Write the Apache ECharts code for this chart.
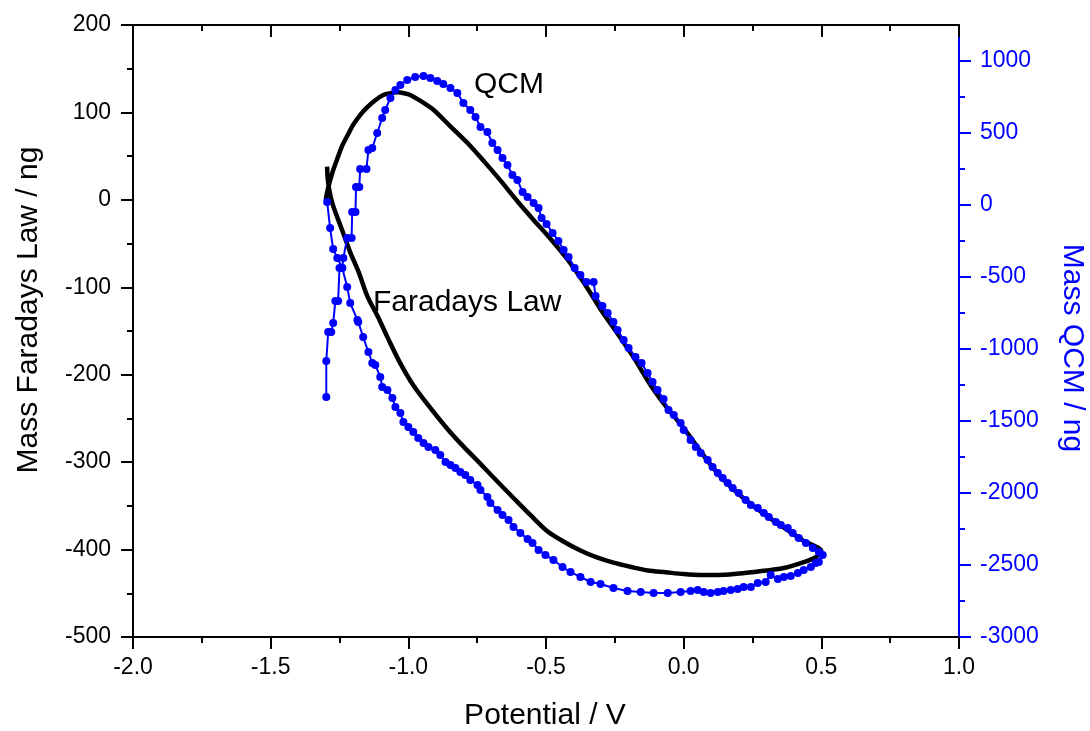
<!DOCTYPE html>
<html>
<head>
<meta charset="utf-8">
<script src="https://cdn.jsdelivr.net/npm/echarts@6/dist/echarts.min.js"></script>
<style>
html,body{margin:0;padding:0;background:#fff;}
#chart{width:1090px;height:731px;}
</style>
</head>
<body>
<div id="chart"></div>
<script>
// ---- Data ----
// Faradays Law curve (left axis, ng) vs potential (V)
const faradayV = [-1.300,-1.291,-1.275,-1.258,-1.240,-1.222,-1.200,-1.175,-1.149,-1.120,-1.091,-1.065,-1.040,-1.015,-0.993,-0.950,-0.909,-0.850,-0.785,-0.725,-0.665,-0.600,-0.545,-0.480,-0.420,-0.360,-0.300,-0.240,-0.180,-0.120,-0.060,0.000,0.062,0.124,0.184,0.244,0.304,0.364,0.430,0.500,
  0.473,0.420,0.364,0.300,0.244,0.184,0.124,0.062,0.000,-0.065,-0.130,-0.190,-0.255,-0.315,-0.375,-0.435,-0.495,-0.555,-0.618,-0.680,-0.738,-0.800,-0.858,-0.920,-0.982,-1.029,-1.076,-1.110,-1.149,-1.180,-1.211,-1.240,-1.258,-1.275,-1.287,-1.293,-1.295];
const faradayMass = [0,14,32,47,62,73,86,97,106,114,120,122,123,122,120,112,103,85,65,44,22,-3,-23,-46,-69,-96,-126,-153,-181,-212,-238,-261,-288,-313,-332,-348,-362,-375,-389,-402,
  -410,-416,-421,-424,-426,-428,-429,-429,-428,-426,-424,-420,-415,-409,-401,-391,-379,-361,-341,-321,-302,-282,-262,-238,-212,-187,-157,-134,-110,-83,-60,-35,-20,-5,11,25,38];

// QCM curve (right axis, ng) vs potential (V)
const qcmV = [-1.298,-1.298,-1.291,-1.280,-1.273,-1.265,-1.255,-1.250,-1.240,-1.236,-1.222,-1.206,-1.204,-1.192,-1.190,-1.178,-1.175,-1.152,-1.145,-1.131,-1.113,-1.095,-1.084,-1.065,-1.047,-1.029,-1.004,-0.975,-0.945,-0.920,-0.895,-0.873,-0.847,-0.822,-0.800,-0.775,-0.756,-0.738,-0.713,-0.695,-0.676,-0.658,-0.640,-0.622,-0.604,-0.585,-0.567,-0.545,-0.527,-0.516,-0.498,-0.476,-0.455,-0.436,-0.418,-0.396,-0.375,-0.353,-0.327,-0.320,-0.295,-0.276,-0.255,-0.240,-0.218,-0.200,-0.175,-0.153,-0.131,-0.113,-0.095,-0.073,-0.055,-0.036,-0.011,0.000,0.025,0.044,0.062,0.087,0.105,0.124,0.142,0.160,0.178,0.200,0.225,0.244,0.269,0.291,0.309,0.335,0.353,0.378,0.396,0.418,0.444,0.469,0.491,0.505,
  0.491,0.480,0.462,0.436,0.415,0.389,0.364,0.342,0.316,0.298,0.269,0.244,0.218,0.196,0.171,0.145,0.124,0.098,0.073,0.051,0.025,-0.011,-0.058,-0.109,-0.156,-0.204,-0.255,-0.302,-0.338,-0.375,-0.411,-0.440,-0.473,-0.502,-0.527,-0.549,-0.567,-0.593,-0.618,-0.636,-0.658,-0.676,-0.702,-0.713,-0.738,-0.749,-0.775,-0.793,-0.811,-0.829,-0.847,-0.865,-0.884,-0.902,-0.927,-0.945,-0.964,-0.982,-1.000,-1.018,-1.029,-1.047,-1.058,-1.076,-1.095,-1.102,-1.120,-1.131,-1.145,-1.164,-1.182,-1.185,-1.211,-1.222,-1.240,-1.258,-1.273,-1.284,-1.295];
const qcmMass = [-1333,-1083,-882,-882,-819,-667,-667,-437,-437,-368,-229,-229,-49,-49,125,125,250,250,382,396,500,604,660,743,799,833,868,889,896,882,861,840,813,778,708,660,611,542,507,431,382,326,278,208,174,90,56,14,-21,-90,-132,-194,-250,-312,-361,-437,-486,-535,-535,-632,-701,-750,-812,-868,-937,-993,-1055,-1097,-1166,-1229,-1285,-1347,-1423,-1458,-1514,-1562,-1632,-1680,-1722,-1771,-1819,-1861,-1896,-1930,-1965,-2000,-2048,-2083,-2104,-2139,-2166,-2201,-2222,-2243,-2278,-2312,-2347,-2382,-2410,-2430,
  -2479,-2486,-2514,-2535,-2555,-2576,-2583,-2597,-2569,-2618,-2625,-2653,-2653,-2667,-2674,-2681,-2688,-2694,-2688,-2674,-2681,-2688,-2694,-2694,-2688,-2681,-2660,-2632,-2618,-2583,-2549,-2514,-2465,-2430,-2396,-2347,-2319,-2278,-2236,-2187,-2153,-2118,-2069,-2028,-1979,-1944,-1910,-1875,-1854,-1826,-1805,-1785,-1736,-1701,-1680,-1653,-1618,-1576,-1541,-1507,-1444,-1403,-1340,-1285,-1264,-1194,-1111,-1097,-1021,-917,-812,-798,-681,-569,-437,-368,-306,-160,21];

// Tick values
const rightMajorTicks = [-3000,-2500,-2000,-1500,-1000,-500,0,500,1000];
const rightMinorTicks = [-2750,-2250,-1750,-1250,-750,-250,250,750];

const FONT = "'Liberation Sans', Arial, sans-serif";
const BLUE = '#0000ff';

const faradayData = faradayV.map((v,i)=>[v, faradayMass[i]]);
const qcmData = qcmV.map((v,i)=>[v, qcmMass[i]]);

const chart = echarts.init(document.getElementById('chart'), null, {renderer:'canvas'});

const blackAxisLine = {show:true, onZero:false, lineStyle:{color:'#000', width:2}};

chart.setOption({
  backgroundColor:'#fff',
  animation:false,
  grid:{left:133, right:131, top:25, bottom:94, containLabel:false},
  xAxis:[
    {type:'value', position:'bottom', min:-2, max:1, interval:0.5,
     axisLine:blackAxisLine,
     axisTick:{show:true, length:12, lineStyle:{color:'#000', width:2}},
     minorTick:{show:true, splitNumber:2, length:6, lineStyle:{color:'#000', width:2}},
     splitLine:{show:false},
     axisLabel:{color:'#000', fontSize:23, fontFamily:FONT, margin:19, formatter:v=>v.toFixed(1)}},
    {type:'value', position:'top', min:-2, max:1, interval:0.5,
     axisLine:blackAxisLine,
     axisTick:{show:true, inside:true, length:12, lineStyle:{color:'#000', width:2}},
     minorTick:{show:true, splitNumber:2, length:6, lineStyle:{color:'#000', width:2}},
     splitLine:{show:false},
     axisLabel:{show:false}}
  ],
  yAxis:[
    {type:'value', position:'left', min:-500, max:200, interval:100,
     axisLine:blackAxisLine,
     axisTick:{show:true, length:12, lineStyle:{color:'#000', width:2}},
     minorTick:{show:true, splitNumber:2, length:6, lineStyle:{color:'#000', width:2}},
     splitLine:{show:false},
     axisLabel:{color:'#000', fontSize:23, fontFamily:FONT, margin:22, formatter:v=>String(v)}},
    {type:'value', position:'right', min:-3000, max:1250, interval:500,
     axisLine:{show:true, onZero:false, lineStyle:{color:BLUE, width:2}},
     axisTick:{show:true, length:12, customValues:rightMajorTicks, lineStyle:{color:BLUE, width:2}},
     minorTick:{show:false},
     splitLine:{show:false},
     axisLabel:{color:BLUE, fontSize:23, fontFamily:FONT, margin:21, customValues:rightMajorTicks, formatter:v=>String(v)}},
    {type:'value', position:'right', offset:0, min:-3000, max:1250, interval:250,
     axisLine:{show:false, onZero:false},
     axisTick:{show:true, length:6, customValues:rightMinorTicks, lineStyle:{color:BLUE, width:2}},
     splitLine:{show:false},
     axisLabel:{show:false}}
  ],
  series:[
    {type:'line', name:'Faradays Law', xAxisIndex:0, yAxisIndex:0, data:faradayData,
     showSymbol:false, smooth:0.3, lineStyle:{color:'#000', width:4.5}, itemStyle:{color:'#000'}, z:2},
    {type:'line', name:'QCM', xAxisIndex:0, yAxisIndex:1, data:qcmData,
     symbol:'circle', symbolSize:8, showSymbol:true,
     lineStyle:{color:BLUE, width:2}, itemStyle:{color:BLUE}, z:3}
  ],
  graphic:[
    {type:'text', left:474, top:70, style:{text:'QCM', fill:'#000', font:'30px '+FONT}},
    {type:'text', left:373, top:288, style:{text:'Faradays Law', fill:'#000', font:'30px '+FONT}},
    {type:'text', x:545, y:716, style:{text:'Potential / V', fill:'#000', font:'30px '+FONT, textAlign:'center', textVerticalAlign:'middle'}},
    {type:'text', x:29, y:310, rotation:Math.PI/2, style:{text:'Mass Faradays Law / ng', fill:'#000', font:'30px '+FONT, textAlign:'center', textVerticalAlign:'middle'}},
    {type:'text', x:1072, y:348, rotation:-Math.PI/2, style:{text:'Mass QCM / ng', fill:BLUE, font:'30px '+FONT, textAlign:'center', textVerticalAlign:'middle'}}
  ]
});
</script>
</body>
</html>
